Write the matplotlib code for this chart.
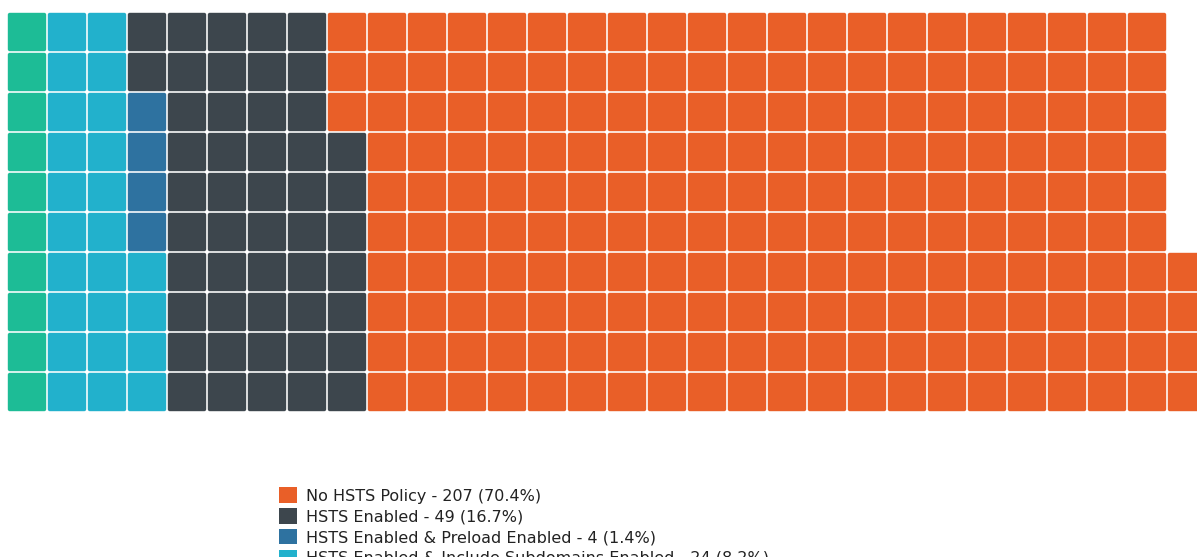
import matplotlib.pyplot as plt
from matplotlib.patches import FancyBboxPatch, Patch


# HSTS policy breakdown, in legend order
categories = [
    "No HSTS Policy",
    "HSTS Enabled",
    "HSTS Enabled & Preload Enabled",
    "HSTS Enabled & Include Subdomains Enabled",
    "HSTS Enabled & Include Subdomains & Preload Enabled",
]
counts = [207, 49, 4, 24, 10]
colors = ["#E95F28", "#3D464D", "#2E72A0", "#22B1CC", "#1DBC96"]

N_ROWS = 10
CELL = 40          # pixel pitch of one waffle cell
GAP = 1.6
X0, Y0 = 7, 12     # top-left corner of the grid

plt.rcParams['font.family'] = ['DejaVu Sans']

fig = plt.figure(figsize=(11.97, 5.57), dpi=100)
ax = fig.add_axes([0, 0, 1, 1])
ax.set_xlim(0, 1197)
ax.set_ylim(557, 0)
ax.axis('off')

# waffle is filled column by column, bottom to top, starting with the last category
total = sum(counts)
idx = 0
for count, color in reversed(list(zip(counts, colors))):
    for _ in range(count):
        col, row = divmod(idx, N_ROWS)
        x = X0 + col * CELL + GAP / 2
        y = Y0 + (N_ROWS - 1 - row) * CELL + GAP / 2
        ax.add_patch(FancyBboxPatch((x, y), CELL - GAP, CELL - GAP,
                                    boxstyle="round,pad=0,rounding_size=2",
                                    facecolor=color, edgecolor='none'))
        idx += 1

handles = [Patch(facecolor=c, edgecolor='none') for c in colors]
labels = ["{} - {} ({:.1f}%)".format(name, n, 100.0 * n / total)
          for name, n in zip(categories, counts)]

fig.legend(handles, labels, loc='upper left',
           bbox_to_anchor=(273 / 1197, 1 - 481 / 557),
           frameon=False, fontsize=11.5, handlelength=1.13, handleheight=1.13,
           handletextpad=0.55, labelspacing=0.28, borderaxespad=0,
           labelcolor='#222222')

fig.savefig("out.png", dpi=100)
